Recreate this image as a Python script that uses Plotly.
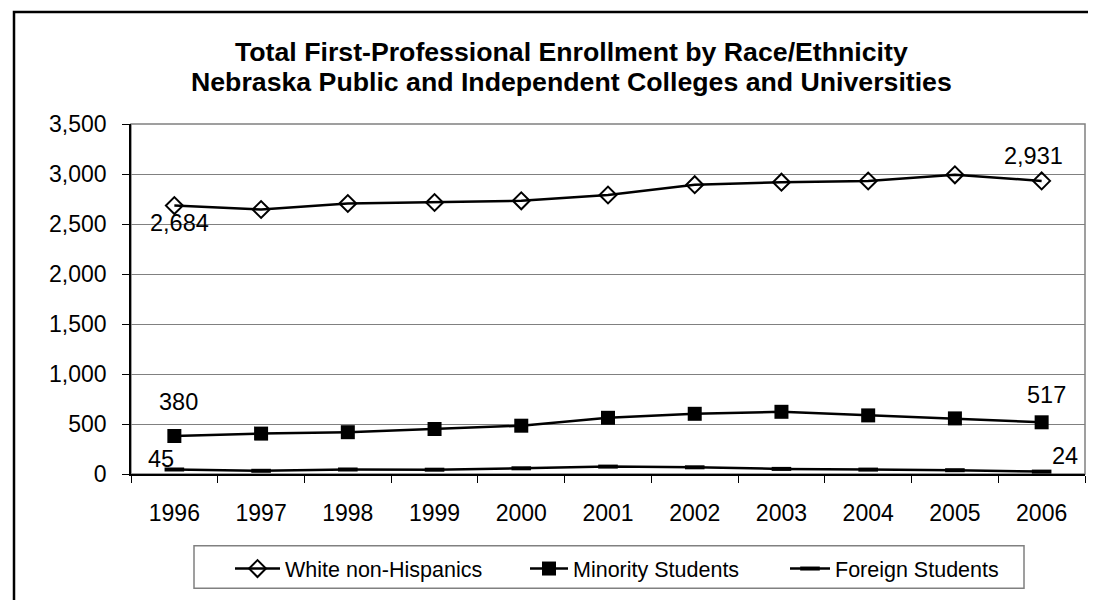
import plotly.graph_objects as go

years = [1996, 1997, 1998, 1999, 2000, 2001, 2002, 2003, 2004, 2005, 2006]
white = [2684, 2645, 2705, 2715, 2732, 2790, 2893, 2918, 2930, 2992, 2931]
minority = [380, 404, 418, 450, 483, 562, 602, 622, 586, 556, 517]
foreign = [45, 32, 45, 43, 57, 74, 67, 51, 44, 38, 24]
series_names = ["White non-Hispanics", "Minority Students", "Foreign Students"]
title_lines = ["Total First-Professional Enrollment by Race/Ethnicity",
               "Nebraska Public and Independent Colleges and Universities"]

FONT = "Liberation Sans, Arial, sans-serif"

# page body adds an 8px offset; work in figure pixels
OFF = 8
W, H = 1096 - OFF, 600 - OFF
L, R, T, B = 131 - OFF, 1085 - OFF, 124 - OFF, 477.5 - OFF
pw, ph = R - L, B - T

def px(x):
    return (x - OFF - L) / pw

def py(y):
    return (B - (y - OFF)) / ph

fig = go.Figure()
fig.add_trace(go.Scatter(
    x=years, y=white, name=series_names[0], mode="lines+markers", legend="legend",
    line=dict(color="black", width=2.5),
    marker=dict(symbol="diamond-open", size=13, color="black", line=dict(width=2, color="black")),
))
fig.add_trace(go.Scatter(
    x=years, y=minority, name=series_names[1], mode="lines+markers", legend="legend2",
    line=dict(color="black", width=2.5),
    marker=dict(symbol="square", size=14, color="black"),
))
fig.add_trace(go.Scatter(
    x=years, y=foreign, name=series_names[2], mode="lines+markers", legend="legend3",
    line=dict(color="black", width=2.5),
    marker=dict(symbol="line-ew-open", size=14, color="black", line=dict(width=4, color="black")),
))

LABEL_SIZE = 23.5
labels = [
    (years[0], white[0], 5, -17),
    (years[-1], white[-1], -8, 25),
    (years[0], minority[0], 4, 34),
    (years[-1], minority[-1], 5, 27),
    (years[0], foreign[0], -13, 11),
    (years[-1], foreign[-1], 23, 16),
]
annotations = []
for x, y, dx, dy in labels:
    annotations.append(dict(x=x, y=y, xref="x", yref="y", text=f"{y:,}", showarrow=False,
                            xshift=dx, yshift=dy, font=dict(family=FONT, size=LABEL_SIZE, color="black")))

for line, ywin in zip(title_lines, [51, 81.5]):
    annotations.append(dict(
        x=px(571), y=py(ywin), xref="paper", yref="paper", text=f"<b>{line}</b>",
        showarrow=False, font=dict(family=FONT, size=26.7, color="black"),
        xanchor="center", yanchor="middle",
    ))

shapes = [
    # plot area border (gray)
    dict(type="rect", xref="paper", yref="paper", x0=0, x1=1, y0=0, y1=1,
         line=dict(color="#808080", width=1.5), layer="below"),
    # legend box
    dict(type="rect", xref="paper", yref="paper", x0=px(194), x1=px(1024), y0=py(593), y1=py(550),
         line=dict(color="#808080", width=1.5)),
    # outer chart border
    dict(type="rect", xref="paper", yref="paper",
         x0=px(14), x1=px(1115), y0=py(620), y1=py(11),
         line=dict(color="black", width=2.5)),
]

boundaries = [y - 0.5 for y in years] + [years[-1] + 0.5]

def leg(xwin, iw):
    return dict(orientation="h", x=px(xwin), xanchor="left", y=py(573), yanchor="middle",
                borderwidth=0, bgcolor="rgba(0,0,0,0)", itemwidth=iw,
                font=dict(family=FONT, size=21.5, color="black"))

fig.update_layout(
    width=W, height=H,
    margin=dict(l=L, r=W - R, t=T, b=H - B),
    paper_bgcolor="white", plot_bgcolor="white",
    font=dict(family=FONT, size=23, color="black"),
    showlegend=True,
    legend=leg(230, 45),
    legend2=leg(525, 38),
    legend3=leg(785, 40),
    annotations=annotations,
    shapes=shapes,
    xaxis=dict(range=[years[0] - 0.5, years[-1] + 0.5], tickmode="array", tickvals=years,
               ticktext=[str(y) for y in years], showgrid=False, showline=True, linecolor="black",
               linewidth=1.5, ticks="", tickfont=dict(family=FONT, size=23, color="black"),
               zeroline=False, ticklabelstandoff=18,
               minor=dict(tickmode="array", tickvals=boundaries, ticks="outside", ticklen=7,
                          tickcolor="black", tickwidth=1, showgrid=False)),
    yaxis=dict(range=[0, 3500], dtick=500, tickformat=",", showgrid=True, gridcolor="#808080", gridwidth=1,
               showline=True, linecolor="black", linewidth=1.5, ticks="outside", ticklen=7,
               tickcolor="black", tickfont=dict(family=FONT, size=23, color="black"), zeroline=False,
               ticklabelstandoff=11),
)

fig.write_html("out.html")
